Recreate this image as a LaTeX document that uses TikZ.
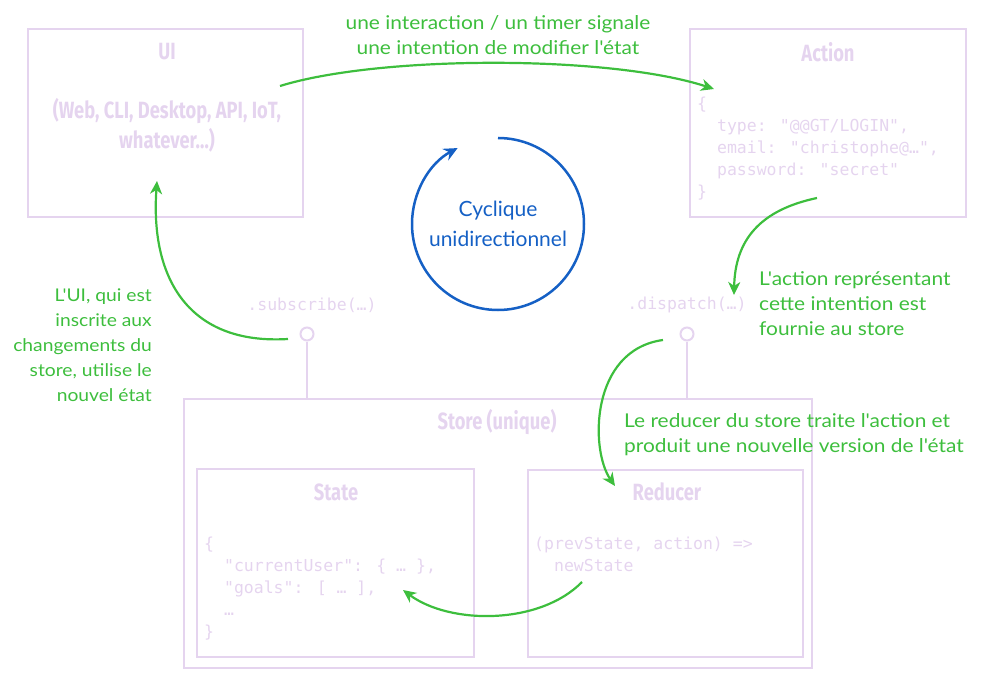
\documentclass[tikz,border=0pt]{standalone}
\usepackage{fontspec}
\setmainfont{Lato}
\newfontfamily\titlefont[FakeStretch=0.78]{Fira Sans}
\newfontfamily\codefont{DejaVu Sans Mono}
\newfontfamily\handfont[FakeStretch=1.1]{Lato}
\newfontfamily\bluefont{Lato}
\usetikzlibrary{arrows.meta}
\definecolor{lav}{HTML}{E5D4EF}
\definecolor{grn}{HTML}{3DBE3D}
\definecolor{blu}{HTML}{1560C5}
\begin{document}
\begin{tikzpicture}[x=1pt,y=-1pt,
 box/.style={draw=lav,line width=2pt,inner sep=0pt},
 title/.style={text=lav,font=\titlefont\bfseries\fontsize{23.5}{30}\selectfont,align=center},
 code/.style={text=lav,font=\codefont\fontsize{16.5}{22}\selectfont,align=left,inner sep=0pt},
 note/.style={text=grn,font=\handfont\fontsize{19}{25}\selectfont,inner sep=0pt},
 garrow/.style={draw=grn,line width=2.2pt,-{Stealth[length=13pt,width=12pt,inset=4pt]}},
 pin/.style={circle,draw=lav,line width=2pt,minimum size=13pt,inner sep=0pt},
 stem/.style={draw=lav,line width=2pt}]
\useasboundingbox (0,0) rectangle (1005,682);
% boxes
\node[box,minimum width=275pt,minimum height=188pt] (ui) at (165.5,123) {};
\node[box,minimum width=276pt,minimum height=188pt] (action) at (828,123) {};
\node[box,minimum width=628pt,minimum height=269pt] (store) at (498,533.5) {};
\node[box,minimum width=277pt,minimum height=188pt] (state) at (335.5,563) {};
\node[box,minimum width=275pt,minimum height=187pt] (reducer) at (665.5,563.5) {};
% titles
\node[title] (uit) at (167,52) {UI};
\node[title] (uisub) at (167,125) {(Web, CLI, Desktop, API, IoT,\\whatever…)};
\node[title] (actt) at (828,52) {Action};
\node[title] (storet) at (497,422) {Store (unique)};
\node[title] (statet) at (336,492) {State};
\node[title] (redt) at (667,492) {Reducer};
% code
\node[code,anchor=north west] (actcode) at (697,97) {\{\\\ \ type: "@@GT/LOGIN",\\\ \ email: "christophe@…",\\\ \ password: "secret"\\\}};
\node[code,anchor=north west] (statecode) at (204,537) {\{\\\ \ "currentUser": \{ … \},\\\ \ "goals": [ … ],\\\ \ …\\\}};
\node[code,anchor=north west] (redcode) at (534,537) {(prevState, action) =>\\\ \ newState};
% pins
\node[pin] (subpin) at (307,334) {};
\node[pin] (dispin) at (687,334) {};
\draw[stem] (subpin.south) -- (subpin.south |- store.north);
\draw[stem] (dispin.south) -- (dispin.south |- store.north);
\node[code] (subt) at (312,305) {.subscribe(…)};
\node[code] (dist) at (687,305) {.dispatch(…)};
% cycle
\coordinate (cyc) at (498,224);
\draw[blu,line width=2.5pt,-{Stealth[length=14pt,width=13pt,inset=5pt]}] (498,138) arc[start angle=90,end angle=-242,radius=86pt];
\node[text=blu,font=\bluefont\fontsize{21}{30}\selectfont,align=center] (cyct) at (cyc) {Cyclique\\unidirectionnel};
% green notes
\node[note,align=center] (n1) at (498,35) {une interaction / un timer signale\\une intention de modifier l'état};
\node[note,align=right,anchor=east,font=\handfont\fontsize{17.5}{25}\selectfont] (n2) at (152,345) {L'UI, qui est\\inscrite aux\\changements du\\store, utilise le\\nouvel état};
\node[note,align=left,anchor=west] (n3) at (759,304) {L'action représentant\\cette intention est\\fournie au store};
\node[note,align=left,anchor=west] (n4) at (624,435) {Le reducer du store traite l'action et\\produit une nouvelle version de l'état};
% green arrows
\coordinate (a1s) at (280,86); \coordinate (a1e) at (714,89);
\coordinate (a2s) at (288,339); \coordinate (a2e) at (157,181);
\coordinate (a3s) at (817,198); \coordinate (a3e) at (734,295);
\coordinate (a4s) at (663,340); \coordinate (a4e) at (615,486);
\coordinate (a5s) at (582,582); \coordinate (a5e) at (403,590);
\draw[garrow] (a1s) .. controls (380,55) and (610,55) .. (a1e);
\draw[garrow] (a2s) .. controls (190,345) and (150,280) .. (a2e);
\draw[garrow] (a3s) .. controls (760,210) and (735,240) .. (a3e);
\draw[garrow] (a4s) .. controls (590,350) and (590,450) .. (a4e);
\draw[garrow] (a5s) .. controls (540,625) and (450,625) .. (a5e);
\end{tikzpicture}
\end{document}
